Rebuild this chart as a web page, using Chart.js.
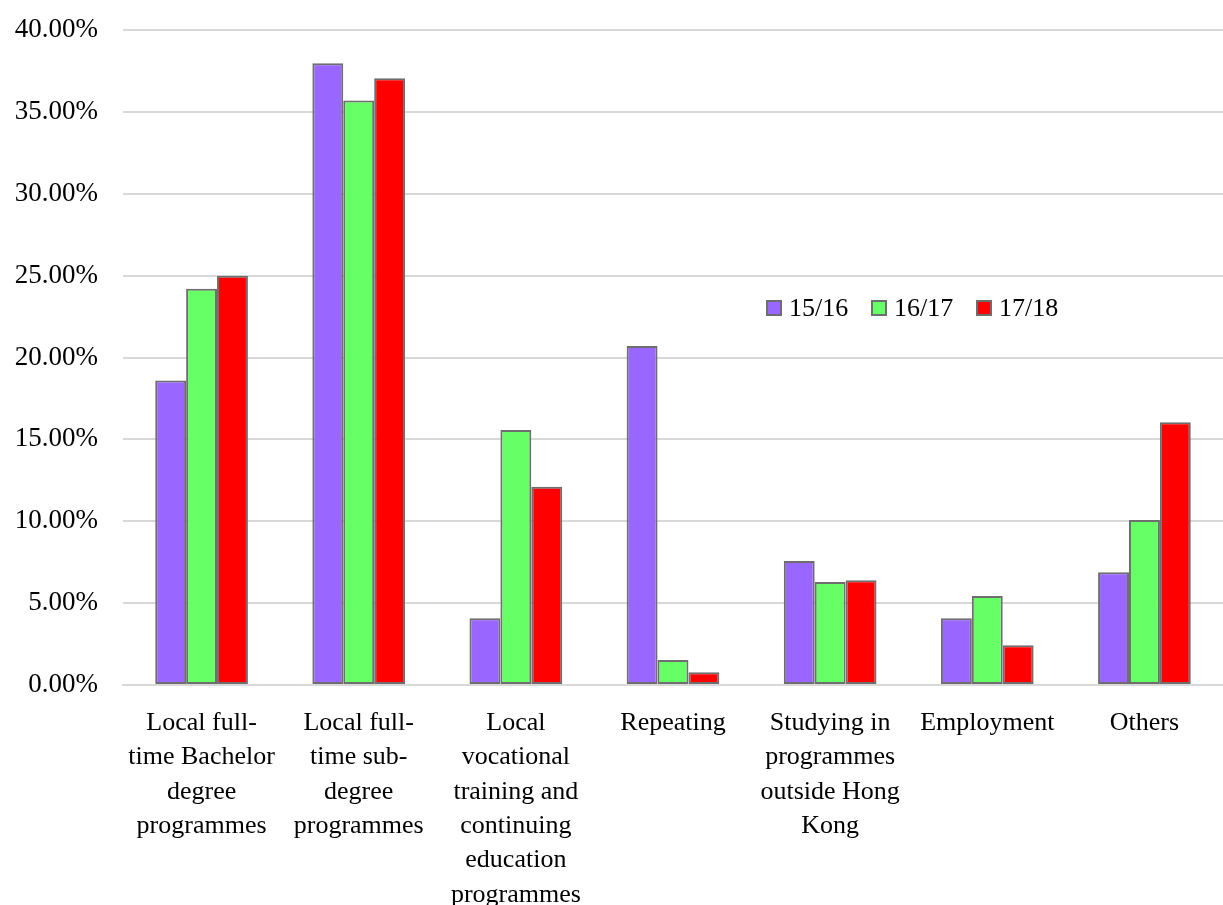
<!DOCTYPE html>
<html>
<head>
<meta charset="utf-8">
<script src="https://cdn.jsdelivr.net/npm/chart.js@4"></script>
<style>
  html, body { margin: 0; padding: 0; background: #fff; }
  #wrap { width: 1223px; height: 905px; }
</style>
</head>
<body>
<div id="wrap"><canvas id="chart" width="1223" height="905"></canvas></div>
<script>
const CATEGORIES = [
  ['Local full-', 'time Bachelor', 'degree', 'programmes'],
  ['Local full-', 'time sub-', 'degree', 'programmes'],
  ['Local', 'vocational', 'training and', 'continuing', 'education', 'programmes'],
  ['Repeating'],
  ['Studying in', 'programmes', 'outside Hong', 'Kong'],
  ['Employment'],
  ['Others']
];
const SERIES_NAMES = ['15/16', '16/17', '17/18'];
const Y1516 = [18.6, 37.97, 4.07, 20.7, 7.57, 4.07, 6.88];
const Y1617 = [24.2, 35.7, 15.57, 1.53, 6.29, 5.44, 10.08];
const Y1718 = [25.0, 37.05, 12.1, 0.78, 6.39, 2.42, 16.04];
const COLORS = ['#9966ff', '#66ff66', '#ff0000'];

const FONT = 'Liberation Serif, Times New Roman, serif';
const EDGE = '#6e6e6e';

// legend drawn inside the plot, like the original
const innerLegend = {
  id: 'innerLegend',
  afterDraw(chart) {
    const ctx = chart.ctx;
    const y = 308;
    let x = 767;
    ctx.save();
    ctx.font = '26px ' + FONT;
    ctx.textBaseline = 'middle';
    chart.data.datasets.forEach(ds => {
      ctx.fillStyle = ds.backgroundColor;
      ctx.fillRect(x, y - 7, 14, 14);
      ctx.strokeStyle = EDGE;
      ctx.lineWidth = 2;
      ctx.strokeRect(x, y - 7, 14, 14);
      ctx.fillStyle = '#000';
      ctx.fillText(ds.label, x + 22, y + 1);
      x += 105;
    });
    ctx.restore();
  }
};

const ctx = document.getElementById('chart').getContext('2d');
new Chart(ctx, {
  type: 'bar',
  data: {
    labels: CATEGORIES,
    datasets: [Y1516, Y1617, Y1718].map((d, i) => ({
      label: SERIES_NAMES[i],
      data: d,
      backgroundColor: COLORS[i],
      borderColor: EDGE,
      borderWidth: 2,
      borderSkipped: false,
      barPercentage: 1,
      categoryPercentage: 0.59
    }))
  },
  options: {
    responsive: false,
    animation: false,
    layout: { padding: { top: 30, right: 0, left: 0, bottom: 0 } },
    plugins: { legend: { display: false }, tooltip: { enabled: false } },
    scales: {
      x: {
        grid: { display: false },
        border: { display: true, color: '#d9d9d9', width: 2 },
        ticks: {
          color: '#000',
          font: { family: FONT, size: 26, lineHeight: 1.32 },
          padding: 13,
          autoSkip: false,
          maxRotation: 0,
          minRotation: 0
        },
        afterFit(scale) { scale.height = 220; }
      },
      y: {
        min: 0,
        max: 40,
        grid: { color: '#d9d9d9', lineWidth: 2, drawTicks: false },
        border: { display: false },
        ticks: {
          stepSize: 5,
          color: '#000',
          padding: 25,
          font: { family: FONT, size: 27 },
          callback: v => v.toFixed(2) + '%'
        },
        afterFit(scale) {
          scale.width = 123;
          scale.paddingTop = 0;
          scale.paddingBottom = 0;
        }
      }
    }
  },
  plugins: [innerLegend]
});
</script>
</body>
</html>
